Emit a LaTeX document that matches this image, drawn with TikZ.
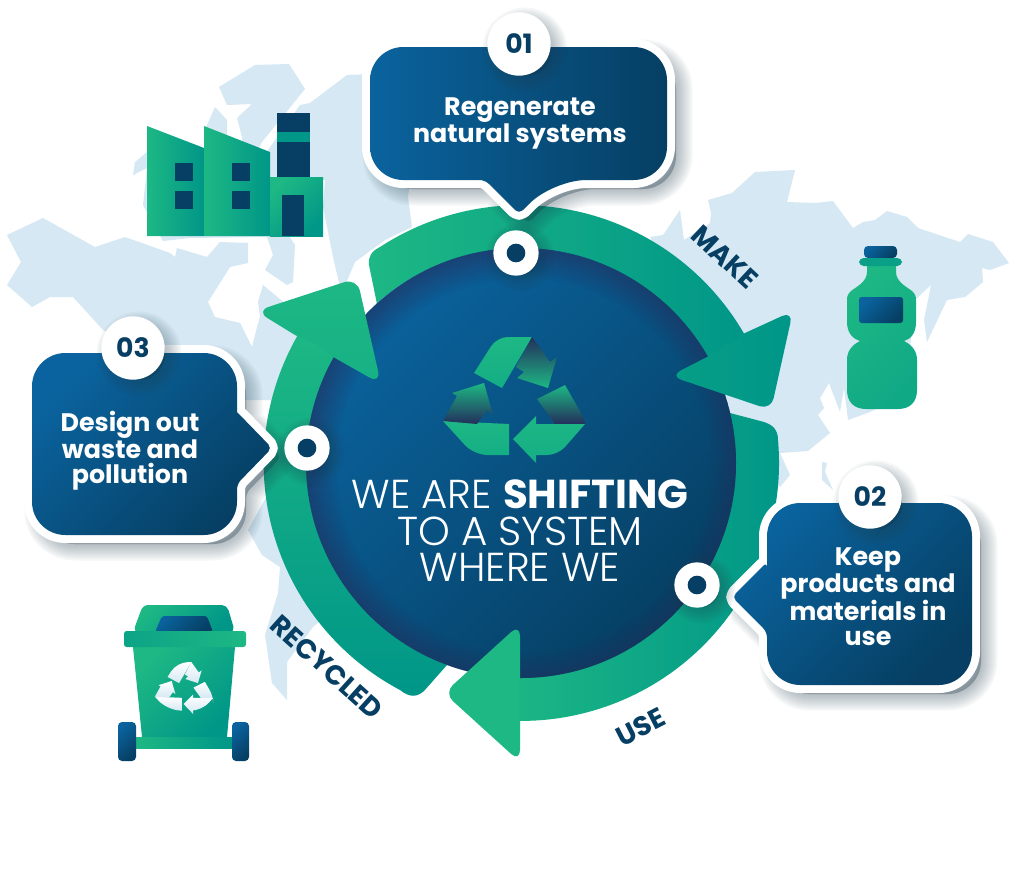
\documentclass[tikz,border=0pt]{standalone}
\usepackage{fontspec}
\setmainfont{Poppins}
\newfontfamily\lightf{Poppins Light}
\usetikzlibrary{calc}
\definecolor{gA}{HTML}{1DB884}
\definecolor{gB}{HTML}{009688}
\definecolor{bA}{HTML}{0A639E}
\definecolor{bB}{HTML}{063F63}
\definecolor{navy}{HTML}{242E5C}
\definecolor{mapc}{HTML}{D5E8F3}
\definecolor{shc}{HTML}{24404F}
\tikzset{
  mapfill/.style={fill=mapc},
  diag/.style={top color=bA,bottom color=bB,shading angle=45},
  greendiag/.style={top color=gA,bottom color=gB,shading angle=45},
  bottlegreen/.style={top color=gA,bottom color=gA!55!gB,shading angle=45},
  greenlr/.style={left color=gA,right color=gB},
  darkpart/.style={fill=bB},
  calltext/.style={text=white,align=center,font=\bfseries\fontsize{19}{18.7}\selectfont},
  numtext/.style={text=bB,font=\bfseries\fontsize{20}{20}\selectfont},
  arclabel/.style={text=bB,inner sep=0pt,font=\bfseries\fontsize{20.5}{20.5}\selectfont},
  whitedisc/.style={circle,fill=white,minimum size=47.5pt,inner sep=0pt},
  smalldisc/.style={circle,fill=white,minimum size=34pt,inner sep=0pt},
  innerdot/.style={circle,fill=bB,minimum size=14pt,inner sep=0pt},
  rsolid/.style={top color=gA,bottom color=gA!70!gB},
  rdown/.style={top color=navy,bottom color=gA},
  rup/.style={top color=gA,bottom color=navy},
}
\newcommand{\softshadow}[2]{%
  \foreach \w in {1,5,9,13,17,21,25,29,33}{%
    \draw[shc,line width=\w*0.75pt,opacity=0.045,fill=shc,line join=round,shift={(#2)}] #1;}}
\newcommand{\recyc}{%
  \shade[rsolid] (474,373) [rounded corners=8] -- (497,337) [sharp corners] -- (532,337) -- (502,388) -- cycle;
  \shade[rdown] (532,337) -- (550,362) -- (557,357) -- (548,388) -- (517,378) -- (524,372) -- (516,367) -- cycle;
  \shade[rup] (537,399) -- (565,385) [rounded corners=5] -- (585,420) [sharp corners] -- (585,424) -- (555,424) -- cycle;
  \shade[rsolid] (585,424) [rounded corners=8] -- (558,455) [sharp corners] -- (536,455) -- (536,463) -- (513,439) -- (536,416) -- (536,424) -- cycle;
  \shade[rsolid] (443,421) -- (509,424) -- (509,455) [rounded corners=10] -- (474,455) [sharp corners] -- cycle;
  \shade[rup] (443,421) -- (457,396) -- (452,393) -- (484,383) -- (493,415) -- (487,410) -- (477,424) -- cycle;
}
\def\pathA{(370,110) [rounded corners=25] -- (370,47) -- (667,47) -- (667,180) -- (553,180) [rounded corners=4] -- (519,214) -- (485,180) [rounded corners=25] -- (370,180) -- cycle}
\def\pathB{(767,600) [rounded corners=4] -- (767,562) [rounded corners=4] -- (732,597) -- (767,632) [rounded corners=25] -- (767,685) -- (972,685) -- (972,503) -- (767,503) [rounded corners=4] -- (767,562)}
\def\pathC{(237,440) [rounded corners=4] -- (237,412) [rounded corners=25] -- (237,353) -- (32,353) -- (32,535) -- (237,535) [rounded corners=4] -- (237,484) -- (272,448) -- (237,412)}
\begin{document}
\begin{tikzpicture}[x=0.75pt,y=-0.75pt]
\useasboundingbox (0,0) rectangle (1024,871);
\fill[white] (0,0) rectangle (1024,871);
\coordinate (c) at (521,463);

% world map
\fill[mapfill] (7,235) -- (43,218) -- (95,247) -- (125,237) -- (170,253) -- (175,257) -- (177,248) -- (207,257) -- (220,242) -- (248,243) -- (248,263) -- (230,267) -- (208,302) -- (215,317) -- (240,323) -- (252,347) -- (257,327) -- (260,317) -- (258,302) -- (263,285) -- (287,305) -- (300,340) -- (280,400) -- (230,400) -- (103,330) -- (73,297) -- (50,297) -- (32,307) -- (7,285) -- (21,262) -- cycle;
\fill[mapfill] (270,490) -- (248,530) -- (262,555) -- (280,567) -- (278,593) -- (265,635) -- (272,683) -- (287,700) -- (287,662) -- (313,627) -- (345,600) -- (320,490) -- cycle;
\fill[mapfill] (219,87) -- (255,65) -- (289,64) -- (305,89) -- (262,142) -- (245,175) -- (242,137) -- (237,118) -- (252,104) -- (227,105) -- cycle;
\fill[mapfill] (215,107) -- (227,120) -- (227,135) -- (205,130) -- (207,125) -- cycle;
\fill[mapfill] (300,105) -- (310,103) -- (347,75) -- (372,74) -- (420,110) -- (408,197) -- (412,227) -- (385,240) -- (355,262) -- (343,290) -- (340,287) -- (333,257) -- (323,207) -- (325,180) -- (270,180) -- (268,150) -- cycle;
\fill[mapfill] (147,152) -- (135,162) -- (133,175) -- (147,168) -- (143,205) -- (163,241) -- (190,238) -- (267,237) -- (273,255) -- (265,270) -- (287,285) -- (293,282) -- (295,245) -- (285,230) -- (270,200) -- (180,150) -- cycle;
\fill[mapfill] (650,237) -- (663,235) -- (680,210) -- (684,240) -- (710,223) -- (711,213) -- (708,200) -- (732,193) -- (755,172) -- (795,170) -- (787,202) -- (815,203) -- (833,201) -- (853,228) -- (863,222) -- (875,220) -- (887,211) -- (907,217) -- (918,228) -- (960,242) -- (968,234) -- (993,242) -- (1009,263) -- (990,270) -- (982,268) -- (983,282) -- (965,297) -- (947,300) -- (927,342) -- (924,320) -- (931,285) -- (915,300) -- (905,395) -- (870,412) -- (848,420) -- (844,388) -- (840,412) -- (829,383) -- (820,398) -- (824,408) -- (818,415) -- (830,433) -- (808,451) -- (780,453) -- (790,475) -- (780,487) -- (740,440) -- cycle;
\fill[mapfill] (822,462) -- (827,463) -- (825,472) -- (833,490) -- (822,480) -- cycle;

% factory
\shade[greenlr] (147,126) -- (204,148) -- (204,236) -- (147,236) -- cycle;
\shade[greenlr] (204,126) -- (270,152) -- (270,236) -- (204,236) -- cycle;
\fill[darkpart] (277,113) rectangle (310,177);
\fill[gB] (277,132) rectangle (310,142);
\shade[greendiag] (270,177) rectangle (323,236);
\fill[darkpart] (282,195) rectangle (304,236);
\fill[darkpart] (175,163) rectangle (193,181);
\fill[darkpart] (175,191) rectangle (193,209);
\fill[darkpart] (232,163) rectangle (250,181);
\fill[darkpart] (232,191) rectangle (250,209);

% bottle
\shade[bottlegreen] (867,262) -- (867,272) .. controls (867,282) and (856,287) .. (851,291) .. controls (848,294) and (847,296) .. (847,300) -- (847,322) .. controls (847,333) and (853,339) .. (860,341) .. controls (852,345) and (847,351) .. (847,360) -- (847,390) .. controls (847,402) and (854,409) .. (866,409) -- (898,409) .. controls (910,409) and (917,402) .. (917,390) -- (917,360) .. controls (917,351) and (912,345) .. (904,341) .. controls (911,339) and (916,333) .. (916,322) -- (916,300) .. controls (916,296) and (915,294) .. (912,291) .. controls (907,287) and (896,282) .. (896,272) -- (896,262) -- cycle;
\shade[diag,rounded corners=3] (864,258) -- (864,246) -- (897,246) -- (897,258) -- cycle;
\fill[gB!70!gA,rounded corners=3.5] (859,258) rectangle (902,266);
\shade[diag,rounded corners=2] (859,297) rectangle (903,323);

% bin
\shade[greendiag,rounded corners=4] (133,632) -- (143,605) -- (227,605) -- (235,632) -- cycle;
\shade[diag,rounded corners=2] (155,632) -- (162,616) -- (207,616) -- (213,632) -- cycle;
\shade[greendiag] (133,647) -- (235,647) -- (227,737) -- (142,737) -- cycle;
\shade[left color=gB!60!gA,right color=gA,rounded corners=2] (124,631) rectangle (246,647);
\shade[greenlr] (136,737) rectangle (232,748);
\shade[diag,rounded corners=3] (118,722) rectangle (136,761);
\shade[diag,rounded corners=3] (232,722) rectangle (249,761);
\begin{scope}[shift={(184,688)},scale=0.41,shift={(-514,-400)}]
  \tikzset{rsolid/.style={top color=white,bottom color=mapc},
           rdown/.style={top color=white,bottom color=mapc},
           rup/.style={top color=white,bottom color=mapc}}
  \recyc
\end{scope}

% ring and central disc
\shade[greenlr] (377,304) -- (369,265) .. controls (368,256) and (372,251) .. (380,247)
   arc[start angle=-123.1,end angle=-28,radius=258]
   -- (707,357)
   arc[start angle=-29.7,end angle=-132.2,radius=215] -- cycle;
\shade[left color=gA,right color=gB] (730,413) -- (764,422) .. controls (773,425) and (778,430) .. (778,440)
   arc[start angle=-5.1,end angle=95,radius=258] -- (500,678) -- cycle;
\shade[top color=gA,bottom color=gB] (447,665) -- (424,691) .. controls (417,697) and (410,698) .. (400,690)
   arc[start angle=118,end angle=211.5,radius=257] -- (335,358)
   arc[start angle=209.4,end angle=110.4,radius=215] -- cycle;
\node[circle,minimum size=322.5pt,inner sep=0pt,shade,top color=bA,bottom color=bB,shading angle=45] (disc) at (c) {};
\begin{scope}
  \clip (c) circle[radius=215];
  \foreach \i in {1,...,16}{%
    \draw[navy,line width=1.5pt,opacity={0.62*(1-\i/17)}] (524,466) circle[radius={220-2*\i}];}
\end{scope}
% arrowheads above the disc
\shade[left color=gB!75!gA,right color=gB] (745,333) [rounded corners=9] -- (793,311) -- (771,410) -- (670,376) [sharp corners] -- (707,357) -- cycle;
\fill[gA] (518,678) -- (520,678) [rounded corners=9] -- (520,624) -- (444,693) -- (520,762) [sharp corners] -- (520,721) -- (518,721) -- cycle;
\shade[top color=gA,bottom color=gA!78!gB] (295,335) [rounded corners=10] -- (256,311) -- (357,278) -- (381,384) [sharp corners] -- (335,358) -- (318,345) -- cycle;

% centre icon and text
\recyc
\node[text=white,align=center,font=\lightf\fontsize{30.3}{27.4}\selectfont] (headline) at (520,531) {WE ARE {\setmainfont{Poppins}\bfseries SHIFTING}\\TO A SYSTEM\\WHERE WE};

% arc labels
\node[arclabel,rotate=-43] (lmake) at (725,257) {MAKE};
\node[arclabel,rotate=27] (luse) at (641,727) {USE};
\node[arclabel,rotate=-42] (lrec) at (327,667) {RECYCLED};

% callouts
\softshadow{\pathA}{9,9}
\draw[white,line width=12pt,line join=round] \pathA;
\shade[left color=bA,right color=bB] \pathA;
\softshadow{\pathB}{9,9}
\draw[white,line width=12pt,line join=round] \pathB;
\shade[diag] \pathB;
\softshadow{\pathC}{9,9}
\draw[white,line width=12pt,line join=round] \pathC;
\shade[diag] \pathC;

% number discs
\foreach \nm/\px/\py in {one/519/44,two/870/497,three/133/348}{%
  \softshadow{(\px,\py) circle[radius=26]}{6,6}
  \node[whitedisc] (disc\nm) at (\px,\py) {};}
\node[numtext] (numone) at (discone) {01};
\node[numtext] (numtwo) at (disctwo) {02};
\node[numtext] (numthree) at (discthree) {03};

% ring dots
\foreach \nm/\px/\py in {a/516/253,b/697/585,c/307/448}{%
  \softshadow{(\px,\py) circle[radius=18]}{4,4}
  \node[smalldisc] (dot\nm) at (\px,\py) {};
  \node[innerdot] (pip\nm) at (\px,\py) {};}

% callout text
\node[calltext] (tone) at (520,123) {Regenerate\\natural systems};
\node[calltext] (ttwo) at (868,597) {Keep\\products and\\materials in\\use};
\node[calltext] (tthree) at (130,451) {Design out\\waste and\\pollution};
\end{tikzpicture}
\end{document}
